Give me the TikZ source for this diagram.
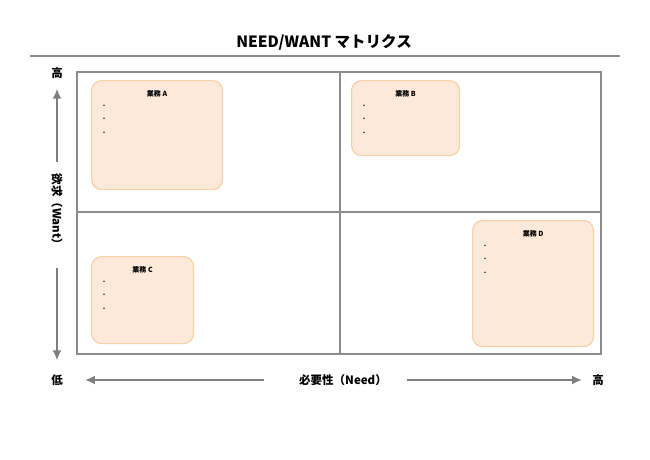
\documentclass[tikz,border=0pt]{standalone}
\usepackage{fontspec}
\setmainfont{Noto Sans CJK JP}
\usepackage{xcolor}
\usetikzlibrary{arrows.meta,positioning}

\definecolor{boxfill}{HTML}{FDE9DA}
\definecolor{boxline}{HTML}{F9CFA8}
\definecolor{axisgray}{HTML}{7F7F7F}
\definecolor{gridgray}{HTML}{8C8C8C}

\tikzset{
  gyomu/.style={draw=boxline, fill=boxfill, line width=1.2pt, rounded corners=10pt, anchor=north west, inner sep=0pt},
  gyomutitle/.style={font=\bfseries\fontsize{7}{8}\selectfont, inner sep=0pt},
  dot/.style={font=\fontsize{7}{7}\selectfont, inner sep=0pt},
  axislabel/.style={font=\bfseries\fontsize{11.5}{13}\selectfont, inner sep=0pt},
  axisarrow/.style={draw=axisgray, line width=2.2pt, -{Latex[length=10pt,width=9pt]}}
}

\begin{document}
\begin{tikzpicture}[x=1pt,y=-1pt]
        \useasboundingbox (0,0) rectangle (650,460);

        % title
        \node[font=\bfseries\fontsize{15.5}{18}\selectfont] (title) at (324,42) {NEED/WANT マトリクス};
        \draw[gridgray, line width=1.2pt] (30,56) -- (620,56);

        % matrix
        \draw[gridgray, line width=1.3pt] (77,72) rectangle (601,354);
        \draw[gridgray, line width=1.3pt] (340,72) -- (340,354);   % need
        \draw[gridgray, line width=1.3pt] (77,212) -- (601,212);   % want

        % boxes
        \node[gyomu, minimum width=131pt, minimum height=109pt] (boxA) at (91,80) {};
        \node[gyomu, minimum width=108pt, minimum height=75pt]  (boxB) at (351,80) {};
        \node[gyomu, minimum width=102pt, minimum height=87pt]  (boxC) at (91,256) {};
        \node[gyomu, minimum width=121pt, minimum height=126pt] (boxD) at (472,220) {};
        \node[gyomutitle, below=10pt of boxA.north] (titleA) {業務 A};
        \node[gyomutitle, below=10pt of boxB.north] (titleB) {業務 B};
        \node[gyomutitle, below=10pt of boxC.north] (titleC) {業務 C};
        \node[gyomutitle, below=10pt of boxD.north] (titleD) {業務 D};
        \foreach \b in {boxA,boxB,boxC,boxD}
          \foreach \k [count=\i] in {27,40,54}
            \node[dot] (\b-dot\i) at ([xshift=13pt,yshift=-\k pt]\b.north west) {・};

        % want axis
        \node[axislabel] (wantHi) at (57,73) {高};
        \node[axislabel, rotate=-90] (want) at (57,212) {欲求（Want）};
        \node[axislabel] (low) at (57,380) {低};
        \draw[axisarrow, shorten <=12pt, shorten >=10pt] (want.west) -- (wantHi.south);
        \draw[axisarrow, shorten <=18pt, shorten >=14pt] (want.east) -- (low.north);

        % need axis
        \node[axislabel] (need) at (343,380) {必要性（Need）};
        \node[axislabel] (needHi) at (598,380) {高};
        \draw[axisarrow, shorten <=35pt, shorten >=22pt] (need.west) -- (low.east);
        \draw[axisarrow, shorten <=20pt, shorten >=10pt] (need.east) -- (needHi.west);

\end{tikzpicture}
\end{document}
